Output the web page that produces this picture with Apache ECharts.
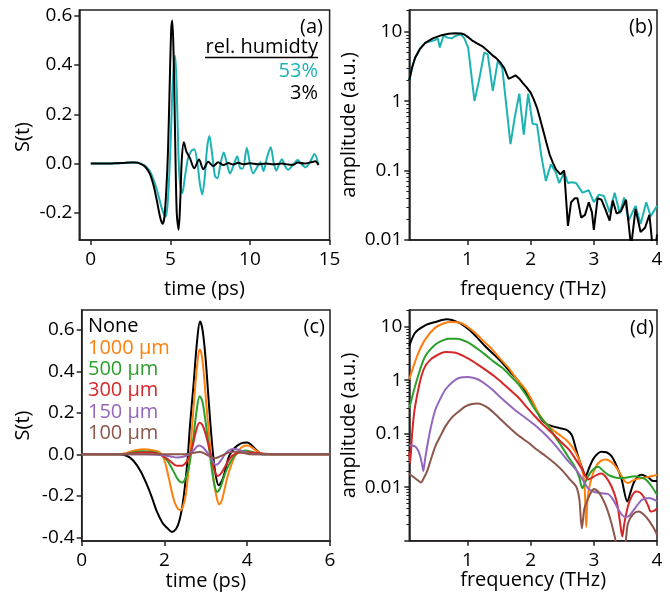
<!DOCTYPE html>
<html><head><meta charset="utf-8">
<script src="https://cdn.jsdelivr.net/npm/echarts@6/dist/echarts.min.js"></script>
<style>html,body{margin:0;padding:0;background:#fff}#c{width:670px;height:595px}</style>
</head><body><div id="c"></div>
<script>
// ---------- tick labels ----------
const ticksXa = [0, 5, 10, 15];
const ticksYa = [-0.2, 0, 0.2, 0.4, 0.6];
const ticksXc = [0, 2, 4, 6];
const ticksYc = [-0.4, -0.2, 0, 0.2, 0.4, 0.6];
const ticksF = [1, 2, 3, 4];
const ticksLogB = [0.01, 0.1, 1, 10];
const ticksLogD = [0.01, 0.1, 1, 10];
const ticksLogDTick = [0.001, 0.01, 0.1, 1, 10];
const minorLogB = [0.02,0.03,0.04,0.05,0.06,0.07,0.08,0.09,0.2,0.3,0.4,0.5,0.6,0.7,0.8,0.9,2,3,4,5,6,7,8,9,20];
const minorLogD = [0.002,0.003,0.004,0.005,0.006,0.007,0.008,0.009,0.02,0.03,0.04,0.05,0.06,0.07,0.08,0.09,0.2,0.3,0.4,0.5,0.6,0.7,0.8,0.9,2,3,4,5,6,7,8,9,20];

// ---------- categories ----------
const humidityNames = ['53%', '3%'];
const filterNames = ['None', '1000 µm', '500 µm', '300 µm', '150 µm', '100 µm'];

// ---------- panel (a): time traces [t (ps), S(t)] ----------
const a53 = [[0,0],[0.5,0],[1,0],[1.5,0.001],[2,0.002],[2.5,0.004],[2.8,0.004],[3.1,0.001],[3.4,-0.008],[3.7,-0.03],[4.0,-0.075],[4.25,-0.13],[4.5,-0.19],[4.7,-0.215],[4.82,-0.17],[4.95,-0.02],[5.05,0.15],[5.15,0.33],[5.3,0.437],[5.4,0.3],[5.5,0.05],[5.6,-0.08],[5.75,-0.12],[5.9,-0.06],[6.1,0.02],[6.3,0.05],[6.5,0.058],[6.7,0.0],[6.85,-0.08],[7.0,-0.125],[7.15,-0.06],[7.3,0.06],[7.45,0.112],[7.6,0.05],[7.8,-0.05],[7.95,-0.06],[8.15,0.0],[8.35,0.045],[8.55,0.0],[8.75,-0.04],[8.95,-0.01],[9.2,0.03],[9.4,-0.02],[9.55,-0.02],[9.8,0.063],[10.0,0.0],[10.2,-0.04],[10.4,-0.02],[10.65,0.005],[10.85,-0.03],[11.05,0.02],[11.3,0.066],[11.5,0.0],[11.65,-0.028],[11.85,0.0],[12.0,0.018],[12.2,-0.01],[12.4,-0.025],[12.7,-0.005],[13.0,0.015],[13.2,0.0],[13.5,-0.015],[13.8,0.01],[14.05,0.039],[14.3,-0.005]];
const a3 = [[0,0],[0.5,0],[1,0],[1.5,0.001],[2,0.002],[2.5,0.004],[2.8,0.004],[3.1,0.0],[3.4,-0.012],[3.7,-0.04],[3.95,-0.09],[4.15,-0.15],[4.35,-0.215],[4.5,-0.244],[4.62,-0.22],[4.75,-0.1],[4.85,0.05],[4.95,0.3],[5.05,0.54],[5.12,0.58],[5.2,0.45],[5.3,0.1],[5.4,-0.2],[5.52,-0.268],[5.62,-0.15],[5.72,0.02],[5.85,0.087],[6.0,0.05],[6.23,0.022],[6.5,-0.019],[6.8,0.017],[7.07,-0.023],[7.38,0.007],[7.7,-0.01],[8.0,0.005],[8.33,-0.006],[8.64,0.002],[8.95,-0.004],[9.27,0.003],[9.6,-0.003],[10.0,0.001],[10.5,-0.003],[11.0,0.0],[11.5,-0.003],[12.0,0.0],[12.4,-0.004],[12.7,-0.005],[13.0,0.004],[13.4,0.0],[13.9,0.006],[14.1,0.009],[14.3,-0.006]];

// ---------- panel (b): spectra [f (THz), amplitude] ----------
const b53 = [[0.078,2.0],[0.12,3.0],[0.17,4.2],[0.25,5.7],[0.33,6.9],[0.43,7.3],[0.49,7.6],[0.53,8.0],[0.56,5.9],[0.62,8.8],[0.68,8.2],[0.75,8.0],[0.8,8.6],[0.86,9.0],[0.9,9.0],[0.95,8.0],[1.01,5.9],[1.11,1.0],[1.18,1.95],[1.265,5.0],[1.32,4.7],[1.4,1.4],[1.48,3.8],[1.55,3.0],[1.68,0.24],[1.75,0.6],[1.82,1.28],[1.89,0.33],[1.96,1.28],[2.03,0.47],[2.1,0.46],[2.17,0.16],[2.24,0.071],[2.32,0.123],[2.4,0.093],[2.45,0.066],[2.53,0.093],[2.59,0.066],[2.65,0.068],[2.72,0.066],[2.82,0.048],[2.92,0.052],[3.0,0.035],[3.08,0.045],[3.16,0.043],[3.25,0.025],[3.33,0.048],[3.41,0.024],[3.48,0.041],[3.55,0.019],[3.66,0.031],[3.74,0.017],[3.83,0.035],[3.9,0.022],[4.0,0.031]];
const b3 = [[0.078,2.0],[0.12,3.0],[0.17,4.2],[0.25,5.7],[0.33,6.9],[0.45,8.0],[0.59,8.9],[0.7,9.3],[0.8,9.5],[0.9,9.4],[0.95,9.1],[1.02,8.2],[1.07,7.5],[1.15,6.8],[1.23,6.2],[1.3,5.5],[1.39,4.6],[1.45,4.2],[1.52,3.6],[1.58,3.0],[1.65,2.1],[1.7,2.2],[1.76,2.35],[1.82,2.1],[1.87,1.84],[1.93,1.6],[2.0,1.32],[2.05,1.05],[2.1,0.8],[2.15,0.55],[2.2,0.37],[2.25,0.25],[2.3,0.17],[2.35,0.13],[2.4,0.104],[2.47,0.088],[2.53,0.1],[2.59,0.016],[2.64,0.035],[2.7,0.04],[2.74,0.04],[2.8,0.021],[2.86,0.023],[2.92,0.035],[2.97,0.025],[3.0,0.014],[3.06,0.04],[3.12,0.038],[3.18,0.028],[3.25,0.019],[3.3,0.037],[3.36,0.024],[3.43,0.026],[3.51,0.038],[3.59,0.008],[3.66,0.028],[3.74,0.013],[3.81,0.015],[3.88,0.023],[3.93,0.008],[3.98,0.008],[4.0,0.012]];

// ---------- panel (c): time traces [t (ps), S(t)] ----------
const cNone = [[0,0],[0.5,0],[0.9,0],[1.1,-0.008],[1.25,-0.031],[1.42,-0.08],[1.57,-0.144],[1.7,-0.21],[1.81,-0.273],[1.95,-0.33],[2.06,-0.354],[2.18,-0.374],[2.28,-0.36],[2.36,-0.32],[2.44,-0.24],[2.5,-0.144],[2.56,-0.02],[2.62,0.147],[2.7,0.33],[2.79,0.55],[2.86,0.641],[2.92,0.6],[2.99,0.471],[3.05,0.31],[3.11,0.147],[3.17,0.01],[3.23,-0.09],[3.31,-0.149],[3.42,-0.112],[3.55,-0.015],[3.65,0.02],[3.76,0.042],[3.9,0.056],[4.0,0.057],[4.1,0.045],[4.2,0.025],[4.32,0.004],[4.45,0],[5,0],[6,0]];
const c1000 = [[0,0],[0.9,0],[1.1,0.008],[1.3,0.02],[1.5,0.025],[1.7,0.02],[1.9,0.008],[2.0,-0.03],[2.1,-0.11],[2.22,-0.215],[2.3,-0.255],[2.38,-0.27],[2.45,-0.25],[2.52,-0.19],[2.58,-0.08],[2.64,0.06],[2.72,0.27],[2.8,0.45],[2.85,0.506],[2.9,0.48],[2.96,0.37],[3.02,0.22],[3.08,0.09],[3.14,-0.04],[3.2,-0.14],[3.27,-0.215],[3.32,-0.241],[3.38,-0.225],[3.45,-0.17],[3.52,-0.11],[3.6,-0.06],[3.7,-0.01],[3.8,0.02],[3.9,0.038],[4.0,0.042],[4.1,0.035],[4.2,0.02],[4.3,0.007],[4.42,0],[5,0],[6,0]];
const c500 = [[0,0],[1.0,0],[1.2,0.008],[1.45,0.015],[1.7,0.012],[1.9,0.0],[2.05,-0.025],[2.2,-0.075],[2.32,-0.12],[2.42,-0.136],[2.5,-0.12],[2.58,-0.071],[2.64,0.0],[2.7,0.08],[2.77,0.2],[2.85,0.28],[2.91,0.26],[2.97,0.19],[3.03,0.1],[3.09,0.01],[3.15,-0.08],[3.21,-0.15],[3.27,-0.181],[3.34,-0.165],[3.42,-0.12],[3.5,-0.075],[3.6,-0.035],[3.7,-0.005],[3.8,0.01],[3.95,0.018],[4.1,0.012],[4.25,0.003],[4.4,0],[5,0],[6,0]];
const c300 = [[0,0],[1.0,0],[1.3,0.007],[1.55,0.01],[1.8,0.005],[2.0,-0.012],[2.15,-0.035],[2.3,-0.055],[2.42,-0.055],[2.52,-0.04],[2.6,-0.01],[2.68,0.04],[2.76,0.11],[2.85,0.152],[2.92,0.14],[2.99,0.1],[3.07,0.04],[3.15,-0.03],[3.22,-0.085],[3.28,-0.104],[3.35,-0.097],[3.45,-0.065],[3.55,-0.03],[3.65,-0.005],[3.8,0.008],[4.0,0.01],[4.2,0.008],[4.4,0.003],[4.6,0],[5,0],[6,0]];
const c150 = [[0,0],[1.5,0],[1.9,-0.003],[2.15,-0.01],[2.3,-0.015],[2.45,-0.012],[2.58,-0.002],[2.7,0.018],[2.83,0.042],[2.92,0.035],[3.0,0.018],[3.08,-0.005],[3.15,-0.025],[3.23,-0.05],[3.3,-0.045],[3.38,-0.025],[3.46,0.0],[3.55,0.018],[3.65,0.026],[3.75,0.025],[3.88,0.015],[4.0,0.006],[4.15,0.0],[5,0],[6,0]];
const c100 = [[0,0],[2.4,0],[2.6,0.003],[2.75,0.009],[2.85,0.011],[2.95,0.006],[3.05,-0.005],[3.15,-0.016],[3.22,-0.019],[3.3,-0.014],[3.42,-0.003],[3.55,0.008],[3.68,0.013],[3.8,0.011],[3.95,0.005],[4.1,0],[5,0],[6,0]];

// ---------- panel (d): spectra [f (THz), amplitude] ----------
const dNone = [[0.078,4.3],[0.17,7.7],[0.33,10.6],[0.49,12.2],[0.67,13.7],[0.86,11.9],[1.02,8.9],[1.15,6.3],[1.28,4.3],[1.42,3.0],[1.55,2.1],[1.68,1.4],[1.81,0.95],[1.92,0.6],[2.03,0.38],[2.1,0.26],[2.18,0.18],[2.26,0.15],[2.35,0.137],[2.45,0.128],[2.56,0.119],[2.62,0.105],[2.66,0.089],[2.72,0.05],[2.77,0.032],[2.82,0.022],[2.87,0.016],[2.92,0.022],[3.0,0.035],[3.12,0.046],[3.2,0.045],[3.28,0.038],[3.36,0.025],[3.44,0.014],[3.53,0.0054],[3.58,0.008],[3.63,0.012],[3.7,0.016],[3.76,0.017],[3.82,0.016],[3.87,0.015],[3.94,0.013],[4.0,0.013]];
const d1000 = [[0.078,1.03],[0.2,2.8],[0.33,5.8],[0.49,9.6],[0.62,11.5],[0.75,12.2],[0.91,11.5],[1.12,7.7],[1.25,5.4],[1.39,3.76],[1.52,2.5],[1.65,1.7],[1.78,1.05],[1.92,0.67],[2.02,0.42],[2.12,0.245],[2.23,0.16],[2.35,0.119],[2.45,0.096],[2.56,0.077],[2.65,0.058],[2.72,0.043],[2.8,0.025],[2.85,0.012],[2.88,0.0018],[2.9,0.006],[2.95,0.013],[3.03,0.024],[3.11,0.031],[3.19,0.033],[3.27,0.03],[3.35,0.024],[3.44,0.016],[3.49,0.013],[3.54,0.012],[3.6,0.013],[3.66,0.014],[3.8,0.015],[3.9,0.016],[4.0,0.017]];
const d500 = [[0.078,0.3],[0.2,1.03],[0.33,2.8],[0.49,4.66],[0.6,5.5],[0.7,5.96],[0.83,5.96],[1.02,5.0],[1.15,3.9],[1.28,3.0],[1.42,2.2],[1.55,1.7],[1.68,1.2],[1.81,0.83],[1.94,0.5],[2.07,0.28],[2.18,0.19],[2.28,0.137],[2.38,0.09],[2.49,0.058],[2.6,0.036],[2.7,0.024],[2.77,0.015],[2.82,0.0096],[2.86,0.012],[2.91,0.016],[2.98,0.021],[3.07,0.024],[3.15,0.02],[3.23,0.017],[3.31,0.0155],[3.39,0.0148],[3.5,0.015],[3.66,0.016],[3.75,0.015],[3.82,0.014],[3.9,0.011],[4.0,0.0072]];
const d300 = [[0.078,0.045],[0.09,0.028],[0.12,0.09],[0.15,0.22],[0.18,0.38],[0.22,0.67],[0.27,1.2],[0.33,1.83],[0.41,2.4],[0.49,2.8],[0.65,3.35],[0.81,3.25],[1.02,2.5],[1.15,2.0],[1.28,1.58],[1.42,1.2],[1.55,0.89],[1.68,0.65],[1.81,0.47],[1.94,0.31],[2.07,0.21],[2.2,0.145],[2.35,0.1],[2.48,0.07],[2.61,0.05],[2.72,0.032],[2.82,0.021],[2.87,0.016],[2.91,0.014],[2.97,0.015],[3.05,0.017],[3.12,0.018],[3.2,0.015],[3.28,0.0103],[3.36,0.0055],[3.42,0.002],[3.45,0.0012],[3.48,0.002],[3.54,0.0044],[3.6,0.0068],[3.67,0.0083],[3.74,0.0078],[3.8,0.0063],[3.86,0.0045],[3.9,0.0035],[3.95,0.0036],[4.0,0.004]];
const d150 = [[0.078,0.061],[0.17,0.058],[0.22,0.048],[0.25,0.038],[0.28,0.027],[0.3,0.02],[0.33,0.035],[0.38,0.077],[0.43,0.15],[0.49,0.28],[0.57,0.45],[0.65,0.67],[0.75,0.9],[0.86,1.1],[1.0,1.15],[1.1,1.1],[1.17,1.03],[1.28,0.85],[1.39,0.67],[1.52,0.48],[1.65,0.35],[1.78,0.26],[1.92,0.197],[2.05,0.15],[2.18,0.11],[2.32,0.075],[2.45,0.05],[2.58,0.032],[2.72,0.021],[2.82,0.014],[2.91,0.0095],[3.0,0.0082],[3.12,0.0077],[3.22,0.0075],[3.3,0.006],[3.39,0.0038],[3.45,0.003],[3.5,0.0028],[3.56,0.0029],[3.62,0.0036],[3.7,0.0048],[3.76,0.0058],[3.87,0.0063],[4.0,0.0055]];
const d100 = [[0.078,0.0178],[0.2,0.0138],[0.26,0.0123],[0.31,0.015],[0.36,0.02],[0.42,0.033],[0.49,0.058],[0.57,0.09],[0.65,0.137],[0.75,0.2],[0.86,0.26],[0.96,0.32],[1.07,0.36],[1.15,0.365],[1.23,0.35],[1.33,0.3],[1.44,0.23],[1.57,0.165],[1.7,0.119],[1.83,0.088],[1.97,0.067],[2.1,0.05],[2.24,0.038],[2.38,0.028],[2.51,0.02],[2.62,0.014],[2.72,0.0103],[2.77,0.006],[2.81,0.0017],[2.85,0.004],[2.9,0.0058],[2.95,0.0078],[3.0,0.0093],[3.06,0.0085],[3.12,0.0067],[3.2,0.0042],[3.28,0.0021],[3.33,0.0012],[3.37,0.0008],[3.45,0.0006],[3.5,0.0009],[3.54,0.0021],[3.62,0.0031],[3.71,0.0035],[3.8,0.003],[3.87,0.0024],[3.95,0.0017],[4.0,0.0013]];

// ---------- styling ----------
const FONT = '"Open Sans", "Noto Sans", sans-serif';
const AX = '#231f20';
const TEAL = '#1db3b3';
const filterColors = ['#000000', '#ff7f0e', '#2ca02c', '#d62728', '#9467bd', '#8c564b'];
const cData = [cNone, c1000, c500, c300, c150, c100];
const dData = [dNone, d1000, d500, d300, d150, d100];

const lineAx = {show: true, onZero: false, lineStyle: {color: AX, width: 1.5}};
const tickSt = {color: AX, width: 1.5};
const lblSt = {fontSize: 19, fontFamily: FONT, color: '#000'};
const nameSt = {fontSize: 20, fontFamily: FONT, color: '#000'};
const fmt1 = v => (Math.abs(v) < 1e-9 ? 0 : v).toFixed(1);
const fmtLog = v => String(+(+v).toPrecision(3));

function xAx(grid, min, max, ticks, name, gap, fmt) {
  return {gridIndex: grid, type: 'value', min: min, max: max,
    axisLine: lineAx, splitLine: {show: false},
    axisTick: {show: true, length: 5, lineStyle: tickSt, customValues: ticks},
    axisLabel: Object.assign({customValues: ticks, margin: 10, formatter: fmt || (v => String(v))}, lblSt),
    name: name, nameLocation: 'middle', nameGap: gap, nameTextStyle: nameSt};
}
function yAx(grid, type, min, max, ticks, labels, name, gap, fmt, pad) {
  return {gridIndex: grid, type: type, min: min, max: max, logBase: 10,
    axisLine: lineAx, splitLine: {show: false},
    axisTick: {show: true, length: 5, lineStyle: tickSt, customValues: ticks},
    axisLabel: Object.assign({customValues: labels, margin: 7, formatter: fmt}, lblSt),
    name: name, nameLocation: 'middle', nameGap: gap,
    nameTextStyle: Object.assign({padding: pad || 0}, nameSt)};
}
function yMinor(grid, min, max, ticks) {
  return {gridIndex: grid, type: 'log', min: min, max: max, logBase: 10, position: 'left',
    axisLine: {show: false, onZero: false}, splitLine: {show: false},
    axisTick: {show: true, length: 3, lineStyle: {color: AX, width: 1}, customValues: ticks},
    axisLabel: {show: false}};
}
function line(name, data, color, xi, yi, smooth) {
  return {type: 'line', name: name, data: data, xAxisIndex: xi, yAxisIndex: yi,
    showSymbol: false, symbol: 'none', smooth: smooth, clip: true,
    lineStyle: {color: color, width: 2}, itemStyle: {color: color}};
}

const series = [
  line(humidityNames[0], a53, TEAL, 0, 0, 0.3),
  line(humidityNames[1], a3, '#000', 0, 0, 0.3),
  line(humidityNames[0], b53, TEAL, 1, 1, false),
  line(humidityNames[1], b3, '#000', 1, 1, false),
];
filterNames.forEach((n, i) => series.push(line(n, cData[i], filterColors[i], 2, 3, 0.35)));
filterNames.forEach((n, i) => series.push(line(n, dData[i], filterColors[i], 3, 4, 0.3)));

const tText = (text, x, y, color, align) => ({type: 'text', silent: true,
  style: {text: text, x: x, y: y, align: align || 'right', verticalAlign: 'middle',
    font: '20px ' + FONT, fill: color || '#000'}});

const option = {
  animation: false,
  backgroundColor: '#fff',
  grid: [
    {left: 79.3, top: 10, width: 250.3, height: 230, show: true, borderColor: AX, borderWidth: 1.5},
    {left: 409.3, top: 10, width: 247.7, height: 230, show: true, borderColor: AX, borderWidth: 1.5},
    {left: 81.7, top: 310, width: 248.3, height: 231, show: true, borderColor: AX, borderWidth: 1.5},
    {left: 409.3, top: 310, width: 247.7, height: 230.7, show: true, borderColor: AX, borderWidth: 1.5}
  ],
  xAxis: [
    xAx(0, -0.72, 15, ticksXa, 'time (ps)', 39),
    xAx(1, 0.078, 4, ticksF, 'frequency (THz)', 39),
    xAx(2, 0, 6, ticksXc, 'time (ps)', 30),
    xAx(3, 0.078, 4, ticksF, 'frequency (THz)', 28)
  ],
  yAxis: [
    yAx(0, 'value', -0.31, 0.623, ticksYa, ticksYa, 'S(t)', 46, fmt1, [0, 24, 0, 0]),
    yAx(1, 'log', 0.01, 20.5, ticksLogB, ticksLogB, 'amplitude (a.u.)', 50, fmtLog),
    yMinor(1, 0.01, 20.5, minorLogB),
    yAx(2, 'value', -0.418, 0.696, ticksYc, ticksYc, 'S(t)', 48, fmt1),
    yAx(3, 'log', 0.001, 20.5, ticksLogDTick, ticksLogD, 'amplitude (a.u.)', 50, fmtLog),
    yMinor(3, 0.001, 20.5, minorLogD)
  ],
  legend: [
    {data: [{name: humidityNames[0], textStyle: {color: TEAL}}], right: 352, top: 60, orient: 'vertical',
      icon: 'none', itemWidth: 0, itemHeight: 22, itemGap: 0, padding: 0, selectedMode: false,
      textStyle: {fontSize: 20, fontFamily: FONT, lineHeight: 22, padding: 0}},
    {data: [{name: humidityNames[1], textStyle: {color: '#000'}}], right: 352, top: 82, orient: 'vertical',
      icon: 'none', itemWidth: 0, itemHeight: 22, itemGap: 0, padding: 0, selectedMode: false,
      textStyle: {fontSize: 20, fontFamily: FONT, lineHeight: 22, padding: 0}},
    {data: filterNames.map((n, i) => ({name: n, textStyle: {color: filterColors[i]}})),
      left: 83, top: 316, orient: 'vertical', icon: 'none', itemWidth: 0, itemHeight: 21.3, itemGap: 0,
      padding: 0, selectedMode: false,
      textStyle: {fontSize: 20, fontFamily: FONT, lineHeight: 21.3, padding: 0}}
  ],
  graphic: [
    tText('(a)', 323, 27),
    tText('(b)', 653, 27),
    tText('(c)', 325, 327),
    tText('(d)', 654, 328),
    tText('rel. humidty', 318, 47),
    {type: 'line', silent: true, shape: {x1: 205, y1: 57.5, x2: 318, y2: 57.5}, style: {stroke: '#000', lineWidth: 1.5}}
  ],
  series: series
};

const chart = echarts.init(document.getElementById('c'), null, {renderer: 'canvas'});
chart.setOption(option);
</script></body></html>
